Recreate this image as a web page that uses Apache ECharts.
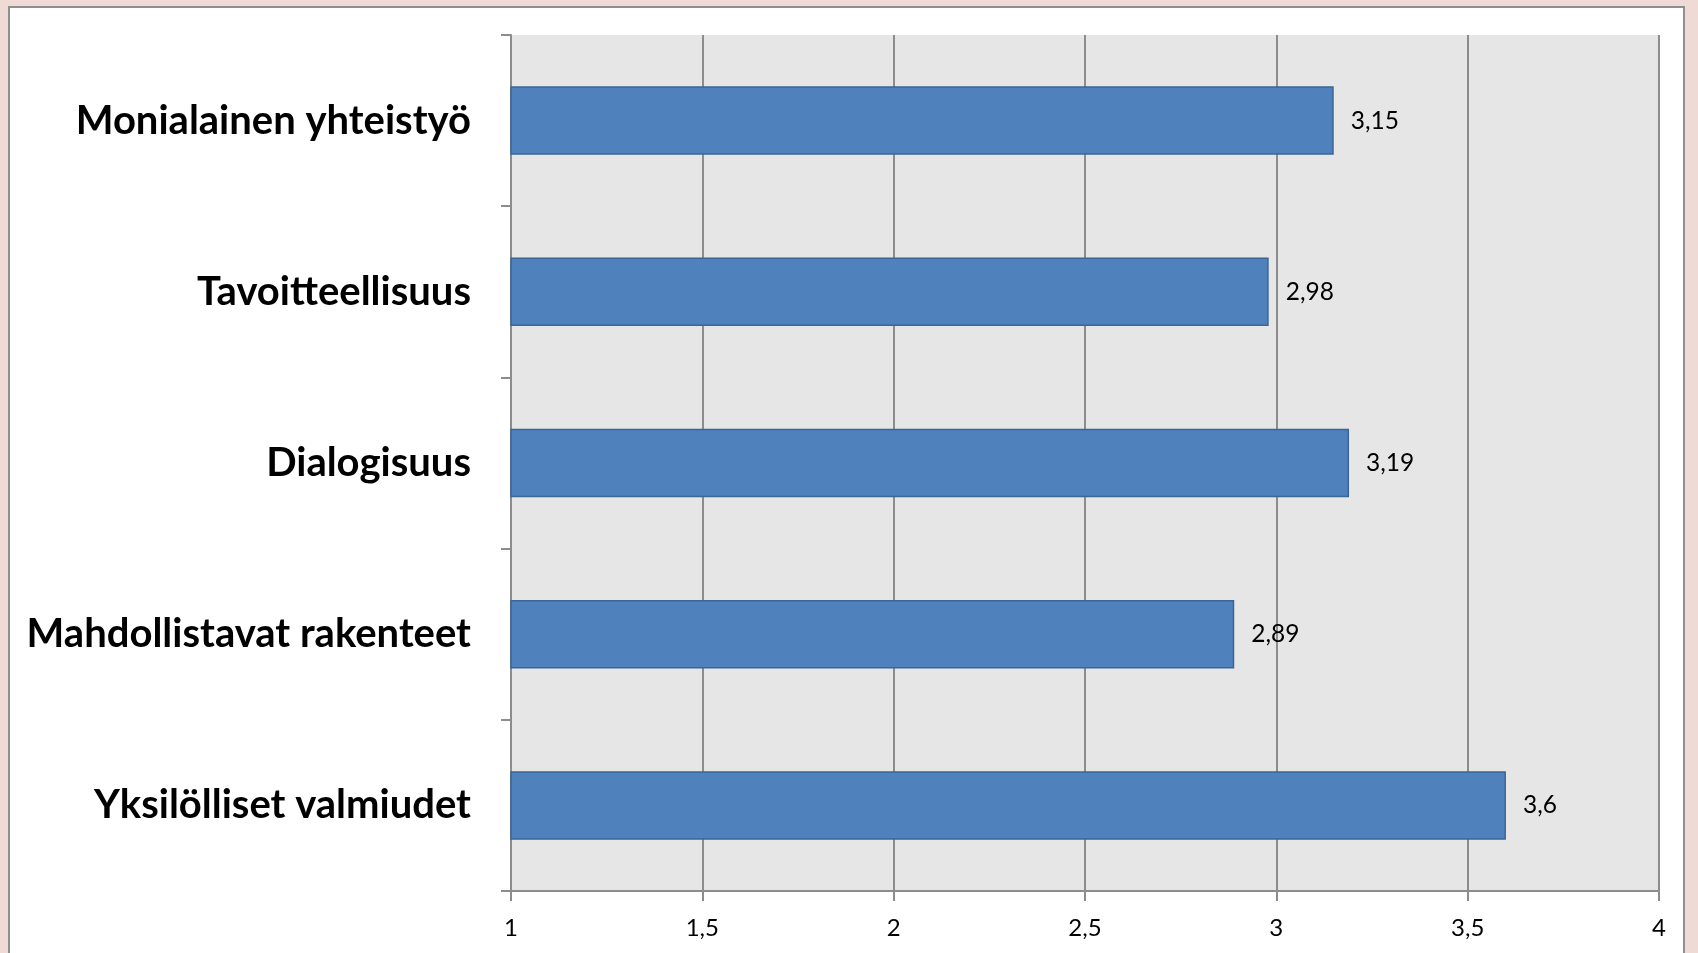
<!DOCTYPE html>
<html>
<head>
<meta charset="utf-8">
<script src="https://cdn.jsdelivr.net/npm/echarts@6/dist/echarts.min.js"></script>
<style>
  html, body { margin: 0; padding: 0; width: 1698px; height: 953px; overflow: hidden; background: #f0dad5; }
  #panel { position: absolute; left: 8px; top: 6px; width: 1677px; height: 980px; background: #ffffff; border: 2px solid #8f8f8f; box-sizing: border-box; }
  #chart { position: absolute; left: 0; top: 0; width: 1698px; height: 953px; }
</style>
</head>
<body>
<div id="panel"></div>
<div id="chart"></div>
<script>
const categories = ['Monialainen yhteistyö', 'Tavoitteellisuus', 'Dialogisuus', 'Mahdollistavat rakenteet', 'Yksilölliset valmiudet'];
const values = [3.15, 2.98, 3.19, 2.89, 3.6];
const xTicks = { min: 1, max: 4, interval: 0.5 };

const fmt = v => String(v).replace('.', ',');
const chart = echarts.init(document.getElementById('chart'), null, { renderer: 'canvas' });
chart.setOption({
  backgroundColor: 'transparent',
  animation: false,
  grid: { left: 511, right: 39, top: 35, bottom: 62, show: true, backgroundColor: '#e6e6e6', borderWidth: 0 },
  xAxis: {
    type: 'value', min: xTicks.min, max: xTicks.max, interval: xTicks.interval,
    axisLine: { show: true, lineStyle: { color: '#8c8c8c', width: 2 } },
    axisTick: { show: true, length: 10, lineStyle: { color: '#8c8c8c', width: 2 } },
    splitLine: { show: true, lineStyle: { color: '#8c8c8c', width: 2 } },
    axisLabel: { formatter: fmt, color: '#000', fontFamily: 'Lato', fontSize: 24, margin: 25 }
  },
  yAxis: {
    type: 'category', data: categories, inverse: true,
    axisLine: { show: true, lineStyle: { color: '#8c8c8c', width: 2 } },
    axisTick: { show: true, length: 10, lineStyle: { color: '#8c8c8c', width: 2 } },
    splitLine: { show: false },
    axisLabel: { color: '#000', fontFamily: 'Lato', fontWeight: 'bold', fontSize: 40, margin: 40, padding: [4, 0, 0, 0] }
  },
  series: [{
    type: 'bar', data: values, barCategoryGap: '60%',
    itemStyle: { color: '#4f81bd', borderColor: '#3a6596', borderWidth: 1.5 },
    label: { show: true, position: 'right', distance: 17, formatter: p => fmt(p.value), color: '#000', fontFamily: 'Lato', fontSize: 24.5, padding: [8, 0, 0, 0] }
  }]
});
</script>
</body>
</html>
